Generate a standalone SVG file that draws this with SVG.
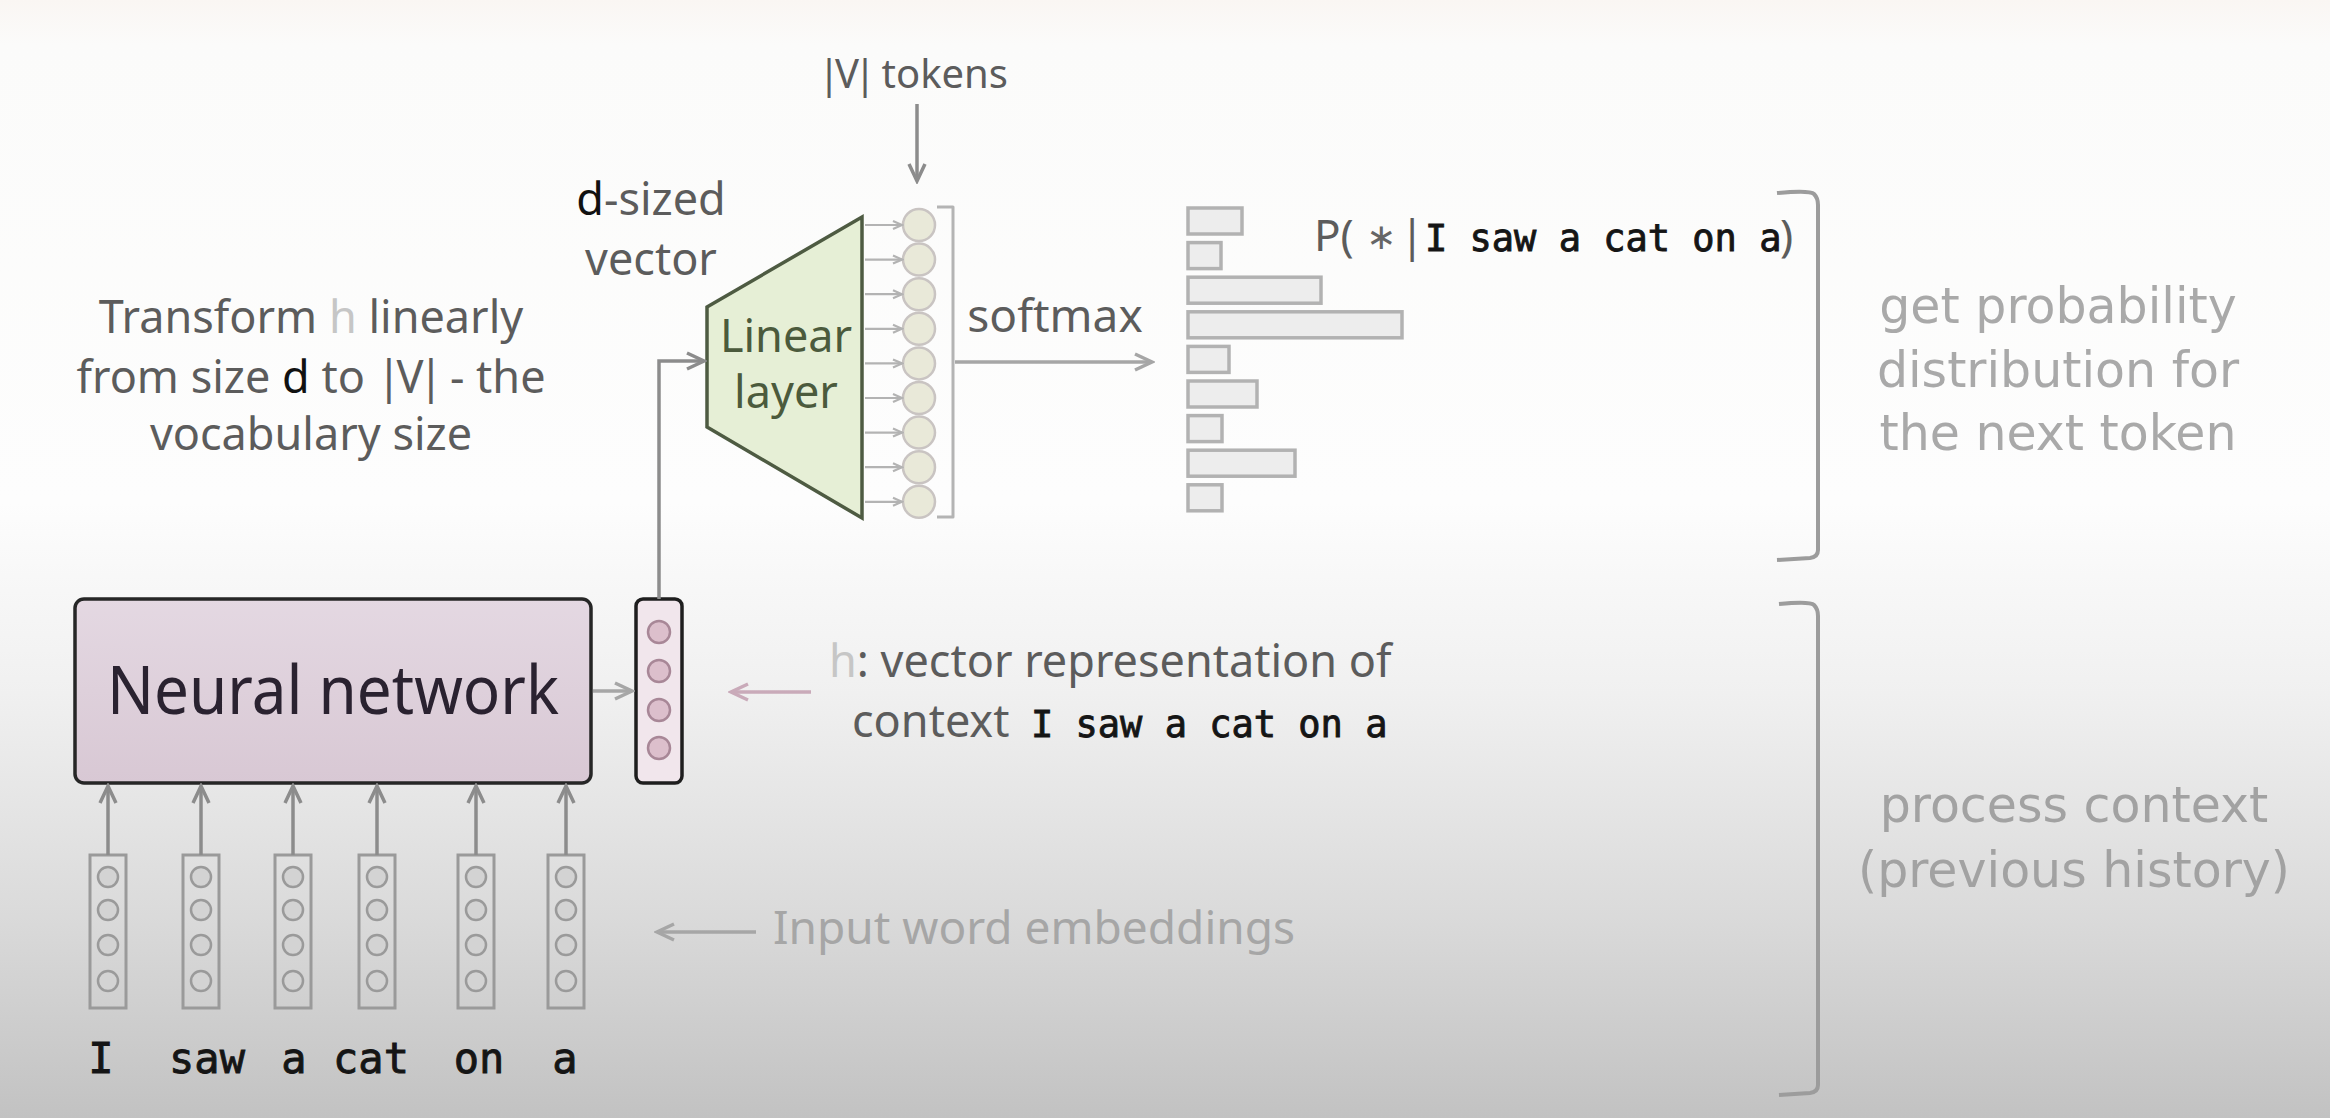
<svg xmlns="http://www.w3.org/2000/svg" width="2330" height="1118" viewBox="0 0 2330 1118">
  <defs>
    <linearGradient id="bg" x1="0" y1="0" x2="0" y2="1">
      <stop offset="0" stop-color="#faf6f3"/>
      <stop offset="0.04" stop-color="#fbfbfa"/>
      <stop offset="0.45" stop-color="#fdfdfd"/>
      <stop offset="0.62" stop-color="#f0f0f0"/>
      <stop offset="0.82" stop-color="#dadada"/>
      <stop offset="1" stop-color="#c2c2c2"/>
    </linearGradient>
    <linearGradient id="nnFill" x1="0" y1="0" x2="0" y2="1">
      <stop offset="0" stop-color="#e4d8e2"/>
      <stop offset="1" stop-color="#d8c8d4"/>
    </linearGradient>
    <marker id="ahGray" markerUnits="userSpaceOnUse" markerWidth="24" markerHeight="24" viewBox="0 0 24 24" refX="21" refY="12" orient="auto">
      <path d="M4,4 L21,12 L4,20" fill="none" stroke="#8c8c8c" stroke-width="3.5" stroke-linejoin="miter"/>
    </marker>
    <marker id="ahLight" markerUnits="userSpaceOnUse" markerWidth="24" markerHeight="24" viewBox="0 0 24 24" refX="21" refY="12" orient="auto">
      <path d="M4,4 L21,12 L4,20" fill="none" stroke="#a6a6a6" stroke-width="3.5"/>
    </marker>
    <marker id="ahPink" markerUnits="userSpaceOnUse" markerWidth="24" markerHeight="24" viewBox="0 0 24 24" refX="21" refY="12" orient="auto">
      <path d="M4,4 L21,12 L4,20" fill="none" stroke="#c9aab9" stroke-width="3.5"/>
    </marker>
    <marker id="ahSmall" markerUnits="userSpaceOnUse" markerWidth="14" markerHeight="14" viewBox="0 0 14 14" refX="12" refY="7" orient="auto">
      <path d="M3,3 L12,7 L3,11" fill="none" stroke="#b3b3b3" stroke-width="2.2"/>
    </marker>
  </defs>
  <style>
    .lbl { font-family: "Noto Sans", "DejaVu Sans", sans-serif; fill: #5c5c5c; }
    .bars { letter-spacing: -5px; }
    .lite { font-family: "DejaVu Sans", "Noto Sans", sans-serif; fill: #a9a9a9; font-size: 49px; text-anchor: middle; }
    .mono { font-family: "DejaVu Sans Mono", "Liberation Mono", monospace; fill: #151515; stroke: #151515; stroke-width: 0.9px; }
    .conn { fill: none; stroke: #8c8c8c; stroke-width: 3.5; }
    .connL { fill: none; stroke: #a6a6a6; stroke-width: 3.5; }
    .connS { fill: none; stroke: #b3b3b3; stroke-width: 2.2; }
    .bracket { fill: none; stroke: #9c9c9c; stroke-width: 4; stroke-linejoin: round; }
    .emb rect { fill: none; stroke: #9a9a9a; stroke-width: 3; }
    .emb circle { fill: #d3d3d3; stroke: #9a9a9a; stroke-width: 2.5; }
    .hc { fill: #dcbfcc; stroke: #a88797; stroke-width: 2.5; }
    .oc { fill: #e9e9d9; stroke: #c9c4c2; stroke-width: 2.5; }
    .bar { fill: #ededed; stroke: #b2b2b2; stroke-width: 3.5; }
  </style>

  <rect x="0" y="0" width="2330" height="1118" fill="url(#bg)"/>

  <!-- Neural network -->
  <g id="neural-network">
    <rect x="75" y="599" width="516" height="184" rx="9" fill="url(#nnFill)" stroke="#262626" stroke-width="3.5"/>
    <text x="333" y="714" font-family="Noto Sans, DejaVu Sans, sans-serif" font-size="68" fill="#2a2230" text-anchor="middle" textLength="452" lengthAdjust="spacingAndGlyphs">Neural network</text>
  </g>

  <!-- h vector -->
  <g id="h-vector">
    <rect x="636" y="599" width="46" height="184" rx="7" fill="#f1e6ec" stroke="#1e1e1e" stroke-width="3.5"/>
    <circle class="hc" cx="659" cy="632" r="11"/>
    <circle class="hc" cx="659" cy="671" r="11"/>
    <circle class="hc" cx="659" cy="710" r="11"/>
    <circle class="hc" cx="659" cy="748" r="11"/>
  </g>

  <!-- Linear layer -->
  <g id="linear-layer">
    <polygon points="707,307 862,217 862,518 707,427" fill="#e6efd6" stroke="#4e5b42" stroke-width="3.5" stroke-linejoin="miter"/>
    <text x="786" y="352" font-family="Noto Sans, DejaVu Sans, sans-serif" font-size="45" fill="#4b5a3c" text-anchor="middle">Linear</text>
    <text x="786" y="408" font-family="Noto Sans, DejaVu Sans, sans-serif" font-size="45" fill="#4b5a3c" text-anchor="middle">layer</text>
  </g>

  <!-- Output vector of |V| logits -->
  <g id="output-vector">
    <circle class="oc" cx="919" cy="225" r="16"/>
    <circle class="oc" cx="919" cy="259.6" r="16"/>
    <circle class="oc" cx="919" cy="294.2" r="16"/>
    <circle class="oc" cx="919" cy="328.8" r="16"/>
    <circle class="oc" cx="919" cy="363.4" r="16"/>
    <circle class="oc" cx="919" cy="398" r="16"/>
    <circle class="oc" cx="919" cy="432.6" r="16"/>
    <circle class="oc" cx="919" cy="467.2" r="16"/>
    <circle class="oc" cx="919" cy="501.8" r="16"/>
    <path class="bracket" d="M937,207 L953,207 L953,517 L937,517" style="stroke:#b4b4b4;stroke-width:3"/>
  </g>

  <!-- Probability bars -->
  <g id="prob-bars">
    <rect class="bar" x="1188" y="208" width="54" height="26"/>
    <rect class="bar" x="1188" y="242.6" width="33" height="26"/>
    <rect class="bar" x="1188" y="277.2" width="133" height="26"/>
    <rect class="bar" x="1188" y="311.8" width="214" height="26"/>
    <rect class="bar" x="1188" y="346.4" width="41" height="26"/>
    <rect class="bar" x="1188" y="381" width="69" height="26"/>
    <rect class="bar" x="1188" y="415.6" width="34" height="26"/>
    <rect class="bar" x="1188" y="450.2" width="107" height="26"/>
    <rect class="bar" x="1188" y="484.8" width="34" height="26"/>
  </g>

  <!-- Input word embeddings -->
  <g id="emb-I" class="emb">
    <rect x="90" y="855" width="36" height="153"/>
    <circle cx="108" cy="877" r="10"/><circle cx="108" cy="910" r="10"/><circle cx="108" cy="945" r="10"/><circle cx="108" cy="981" r="10"/>
  </g>
  <g id="emb-saw" class="emb">
    <rect x="183" y="855" width="36" height="153"/>
    <circle cx="201" cy="877" r="10"/><circle cx="201" cy="910" r="10"/><circle cx="201" cy="945" r="10"/><circle cx="201" cy="981" r="10"/>
  </g>
  <g id="emb-a1" class="emb">
    <rect x="275" y="855" width="36" height="153"/>
    <circle cx="293" cy="877" r="10"/><circle cx="293" cy="910" r="10"/><circle cx="293" cy="945" r="10"/><circle cx="293" cy="981" r="10"/>
  </g>
  <g id="emb-cat" class="emb">
    <rect x="359" y="855" width="36" height="153"/>
    <circle cx="377" cy="877" r="10"/><circle cx="377" cy="910" r="10"/><circle cx="377" cy="945" r="10"/><circle cx="377" cy="981" r="10"/>
  </g>
  <g id="emb-on" class="emb">
    <rect x="458" y="855" width="36" height="153"/>
    <circle cx="476" cy="877" r="10"/><circle cx="476" cy="910" r="10"/><circle cx="476" cy="945" r="10"/><circle cx="476" cy="981" r="10"/>
  </g>
  <g id="emb-a2" class="emb">
    <rect x="548" y="855" width="36" height="153"/>
    <circle cx="566" cy="877" r="10"/><circle cx="566" cy="910" r="10"/><circle cx="566" cy="945" r="10"/><circle cx="566" cy="981" r="10"/>
  </g>

  <!-- Words -->
  <g id="words" class="mono" font-size="42" text-anchor="middle">
    <text x="101" y="1073">I</text>
    <text x="207" y="1073">saw</text>
    <text x="294" y="1073">a</text>
    <text x="371" y="1073">cat</text>
    <text x="479" y="1073">on</text>
    <text x="565" y="1073">a</text>
  </g>

  <!-- Brackets -->
  <g id="brackets">
    <path class="bracket" d="M1777,193 Q1810,190 1814,194 Q1818,198 1818,205 L1818,550 Q1818,557 1810,558 L1777,560"/>
    <path class="bracket" d="M1779,604 Q1810,601 1814,605 Q1818,609 1818,616 L1818,1085 Q1818,1092 1810,1093 L1779,1095"/>
  </g>

  <!-- Connectors -->
  <g id="connectors">
    <line class="conn" x1="108" y1="855" x2="108" y2="786" marker-end="url(#ahGray)"/>
    <line class="conn" x1="201" y1="855" x2="201" y2="786" marker-end="url(#ahGray)"/>
    <line class="conn" x1="293" y1="855" x2="293" y2="786" marker-end="url(#ahGray)"/>
    <line class="conn" x1="377" y1="855" x2="377" y2="786" marker-end="url(#ahGray)"/>
    <line class="conn" x1="476" y1="855" x2="476" y2="786" marker-end="url(#ahGray)"/>
    <line class="conn" x1="566" y1="855" x2="566" y2="786" marker-end="url(#ahGray)"/>
    <line class="connL" x1="593" y1="691" x2="632" y2="691" marker-end="url(#ahLight)"/>
    <path class="conn" d="M659,599 L659,361 L704,361" marker-end="url(#ahGray)"/>
    <line class="conn" x1="917" y1="104" x2="917" y2="181" marker-end="url(#ahGray)"/>
    <line class="connS" x1="865" y1="225" x2="902" y2="225" marker-end="url(#ahSmall)"/>
    <line class="connS" x1="865" y1="259.6" x2="902" y2="259.6" marker-end="url(#ahSmall)"/>
    <line class="connS" x1="865" y1="294.2" x2="902" y2="294.2" marker-end="url(#ahSmall)"/>
    <line class="connS" x1="865" y1="328.8" x2="902" y2="328.8" marker-end="url(#ahSmall)"/>
    <line class="connS" x1="865" y1="363.4" x2="902" y2="363.4" marker-end="url(#ahSmall)"/>
    <line class="connS" x1="865" y1="398" x2="902" y2="398" marker-end="url(#ahSmall)"/>
    <line class="connS" x1="865" y1="432.6" x2="902" y2="432.6" marker-end="url(#ahSmall)"/>
    <line class="connS" x1="865" y1="467.2" x2="902" y2="467.2" marker-end="url(#ahSmall)"/>
    <line class="connS" x1="865" y1="501.8" x2="902" y2="501.8" marker-end="url(#ahSmall)"/>
    <line class="connL" x1="955" y1="362" x2="1152" y2="362" marker-end="url(#ahLight)"/>
    <line x1="811" y1="692" x2="731" y2="692" stroke="#c9aab9" stroke-width="3.5" marker-end="url(#ahPink)"/>
    <line class="connL" x1="756" y1="932" x2="657" y2="932" marker-end="url(#ahLight)"/>
  </g>

  <!-- Labels -->
  <g id="labels">
    <text class="lbl" x="913" y="88" font-size="40" text-anchor="middle"><tspan class="bars">|V|</tspan> tokens</text>
    <text class="lbl" x="651" y="215" font-size="45" text-anchor="middle"><tspan fill="#111">d</tspan>-sized</text>
    <text class="lbl" x="651" y="275" font-size="45" text-anchor="middle">vector</text>
    <text class="lbl" x="311" y="333" font-size="45" text-anchor="middle">Transform <tspan fill="#c6c6c6">h</tspan> linearly</text>
    <text class="lbl" x="311" y="393" font-size="45" text-anchor="middle">from size <tspan fill="#111">d</tspan> to <tspan class="bars">|V|</tspan> - the</text>
    <text class="lbl" x="311" y="450" font-size="45" text-anchor="middle">vocabulary size</text>
    <text class="lbl" x="1055" y="332" font-size="46" text-anchor="middle">softmax</text>
    <text x="1314" y="251" font-size="44">
      <tspan class="lbl" font-size="44">P(</tspan><tspan x="1366" font-family="DejaVu Sans, sans-serif" fill="#666" font-size="36" dy="-2">∗</tspan><tspan class="lbl" x="1400" dy="2" font-size="44">|</tspan><tspan class="mono" x="1425" font-size="37">I saw a cat on a</tspan><tspan class="lbl" x="1780" font-size="44">)</tspan>
    </text>
    <text class="lbl" x="829" y="677" font-size="45"><tspan fill="#c6c6c6">h</tspan>: vector representation of</text>
    <text class="lbl" x="852" y="737" font-size="45">context <tspan class="mono" x="1031" font-size="37">I saw a cat on a</tspan></text>
    <text class="lbl" x="773" y="944" font-size="46" style="fill:#a6a6a6">Input word embeddings</text>
    <text class="lite" x="2058" y="323">get probability</text>
    <text class="lite" x="2058" y="387">distribution for</text>
    <text class="lite" x="2058" y="450">the next token</text>
    <text class="lite" x="2074" y="822" style="fill:#a2a2a2">process context</text>
    <text class="lite" x="2074" y="887" style="fill:#a2a2a2">(previous history)</text>
  </g>
</svg>
